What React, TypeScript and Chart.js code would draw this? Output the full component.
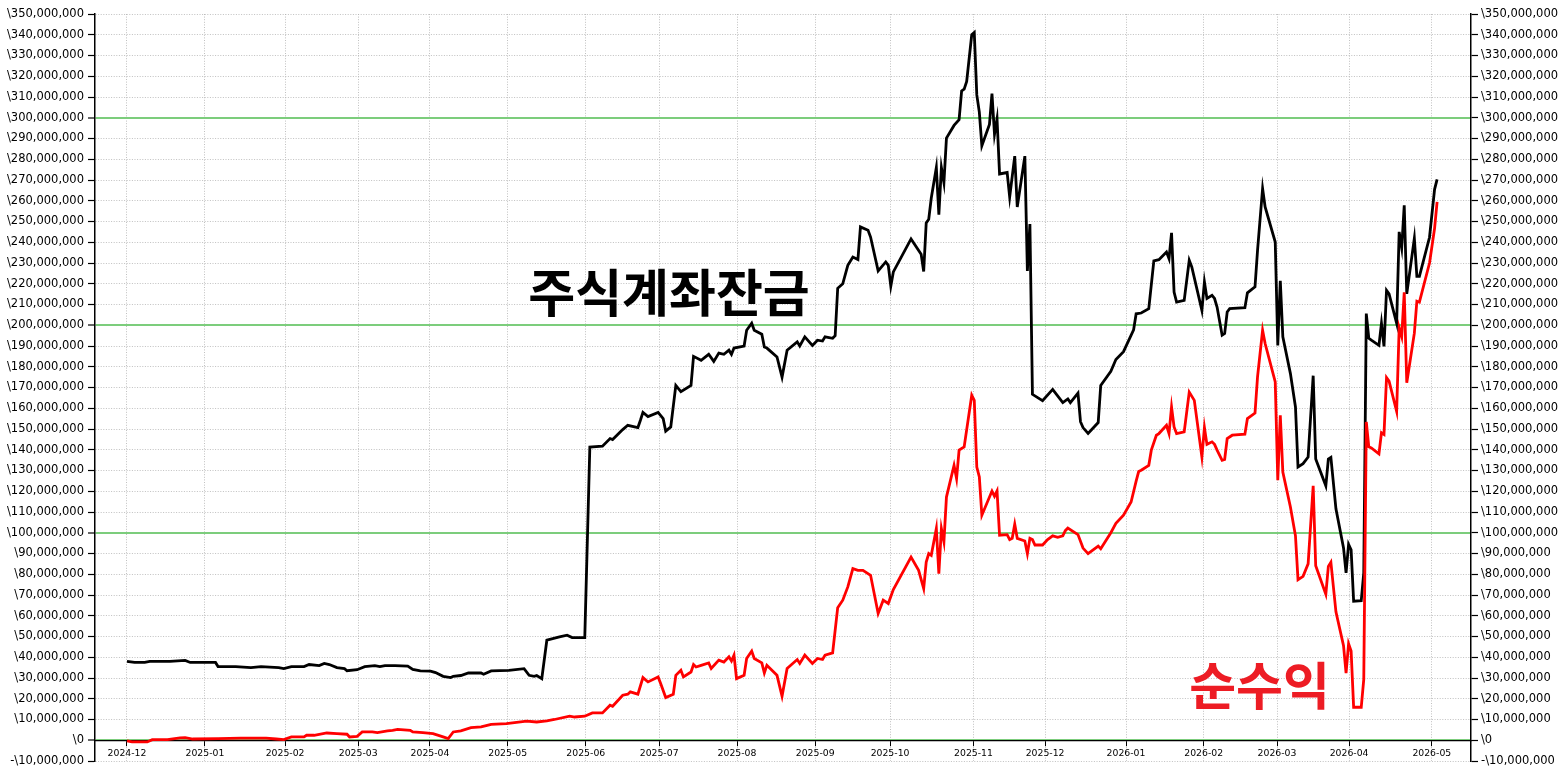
import { useEffect, useRef } from 'react';
import { Chart, registerables } from 'chart.js';
import type { ChartConfiguration, Plugin } from 'chart.js';

Chart.register(...registerables);

// x = record index (the first record is 2024-12-01), y = million won

// 주식계좌잔금 (account balance)
const balanceIdx = [
  0, 3, 7, 9, 17, 23, 25, 35, 36, 43, 49, 53, 60, 62, 65, 70, 72, 76, 78, 80, 83, 86, 87, 91, 94, 98, 100, 102, 106,
  111, 113, 116, 120, 122, 125, 128, 129, 132, 135, 140, 141, 144, 151, 157, 159, 161, 162, 164, 166, 171, 174, 176,
  181, 183, 188, 191, 192, 196, 198, 202, 203, 204, 206, 210, 212, 213, 215, 217, 219, 223, 224, 227, 230, 232, 234,
  236, 238, 239, 240, 244, 245, 247, 248, 251, 252, 253, 257, 259, 261, 265, 266, 268, 271, 273, 275, 276, 279, 280,
  281, 283, 285, 287, 289, 290, 293, 294, 297, 300, 301, 302, 303, 310, 314, 315, 316, 317, 318, 320, 321, 322, 323,
  324, 327, 329, 330, 331, 332, 334, 335, 336, 337, 338, 341, 342, 343, 344, 345, 348, 349, 351, 352, 355, 356, 357,
  358, 362, 366, 370, 372, 373, 376, 377, 378, 380, 384, 385, 389, 391, 394, 398, 399, 401, 404, 406, 408, 411, 412,
  413, 414, 415, 418, 420, 421, 425, 426, 427, 429, 430, 431, 433, 434, 435, 436, 442, 443, 446, 447, 449, 450, 454,
  455, 456, 457, 460, 462, 463, 465, 467, 469, 470, 474, 475, 476, 478, 481, 482, 483, 484, 485, 488, 489, 490, 491,
  492, 495, 496, 497, 498, 499, 502, 503, 504, 505, 506, 509, 510, 511, 515, 517, 518,
];
const balanceM = [
  38.0, 37.5, 37.5, 38.0, 38.0, 38.5, 37.5, 37.5, 35.5, 35.5, 35.0, 35.5, 35.0, 34.5, 35.5, 35.5, 36.5, 36.0, 37.0,
  36.5, 35.0, 34.5, 33.5, 34.0, 35.5, 36.0, 35.5, 36.0, 36.0, 35.7, 34.1, 33.4, 33.3, 32.6, 30.8, 30.2, 30.8, 31.2,
  32.4, 32.4, 31.8, 33.4, 33.7, 34.5, 31.3, 30.8, 31.2, 29.7, 48.2, 49.8, 50.6, 49.5, 49.5, 141.3, 141.7, 145.4,
  144.9, 149.7, 151.8, 150.7, 154.2, 158.0, 156.0, 158.0, 155.0, 149.0, 151.0, 171.0, 168.0, 171.0, 185.0, 183.1,
  186.0, 182.6, 186.6, 186.0, 188.0, 186.0, 189.0, 190.0, 197.6, 201.0, 197.6, 195.7, 189.5, 189.0, 184.7, 175.0,
  188.0, 192.0, 190.0, 194.4, 190.3, 192.8, 192.4, 194.4, 193.7, 195.0, 217.8, 220.0, 228.9, 232.9, 231.7, 247.4,
  245.8, 242.5, 226.2, 230.5, 228.9, 218.8, 225.7, 241.6, 234.2, 225.9, 249.3, 251.1, 261.3, 276.0, 253.3, 276.0,
  268.7, 290.2, 296.3, 299.1, 312.9, 313.8, 317.5, 340.0, 341.1, 311.0, 302.7, 286.5, 296.8, 311.6, 292.0, 299.4,
  272.9, 273.6, 261.8, 281.5, 257.0, 281.5, 226.2, 248.8, 166.7, 163.6, 169.1, 162.7, 164.5, 162.7, 167.3, 153.5,
  150.7, 147.9, 153.1, 171.0, 177.8, 183.5, 187.3, 197.8, 205.5, 205.9, 208.0, 231.0, 231.6, 235.3, 232.1, 244.5,
  216.0, 211.2, 212.0, 231.3, 228.1, 207.2, 220.9, 212.9, 214.4, 212.9, 208.8, 195.2, 196.0, 206.4, 208.0, 208.5,
  215.6, 218.5, 236.1, 265.9, 257.0, 240.1, 190.3, 221.4, 194.4, 176.7, 160.6, 131.7, 133.3, 136.5, 175.7, 135.5,
  122.6, 135.5, 136.3, 111.5, 92.7, 80.7, 94.4, 91.8, 67.0, 67.3, 80.7, 205.6, 193.7, 192.8, 190.3, 200.9, 189.8,
  216.8, 215.1, 200.9, 245.0, 237.3, 257.8, 215.1, 241.9, 223.6, 223.6, 242.4, 265.5, 270.3,
];

// 순수익 (net profit)
const profitIdx = [
  0, 2, 8, 10, 16, 21, 23, 26, 36, 45, 55, 59, 62, 65, 70, 71, 74, 79, 83, 87, 88, 91, 93, 97, 99, 103, 105, 107, 112,
  113, 117, 121, 125, 127, 129, 132, 136, 140, 144, 150, 158, 162, 166, 169, 175, 177, 181, 184, 188, 191, 192, 196,
  198, 199, 202, 204, 206, 210, 211, 213, 216, 217, 219, 220, 223, 224, 225, 227, 230, 231, 234, 236, 238, 239, 240,
  241, 244, 245, 247, 248, 251, 252, 253, 257, 259, 261, 265, 266, 268, 271, 273, 275, 276, 279, 281, 283, 285, 287,
  289, 291, 294, 297, 299, 301, 303, 310, 313, 315, 316, 317, 318, 320, 321, 322, 323, 324, 327, 328, 329, 331, 334,
  335, 336, 337, 338, 342, 343, 344, 345, 348, 349, 350, 351, 352, 355, 356, 357, 358, 359, 362, 364, 366, 368, 370,
  371, 372, 376, 378, 380, 384, 385, 389, 391, 394, 397, 399, 400, 401, 404, 405, 407, 408, 411, 412, 413, 414, 415,
  418, 420, 422, 425, 426, 427, 429, 430, 431, 433, 434, 435, 437, 442, 443, 446, 447, 449, 450, 454, 455, 456, 457,
  460, 462, 463, 465, 467, 469, 470, 474, 475, 476, 478, 481, 482, 483, 484, 485, 488, 489, 490, 491, 492, 495, 496,
  497, 498, 499, 502, 503, 504, 505, 506, 509, 510, 511, 515, 517, 518,
];
const profitM = [
  -0.3, -0.8, -0.8, 0.3, 0.3, 1.1, 1.3, 0.6, 0.8, 1.0, 1.0, 0.6, 0.3, 1.6, 1.6, 2.4, 2.4, 3.5, 3.2, 2.9, 1.6, 1.9,
  4.0, 4.0, 3.7, 4.5, 4.8, 5.2, 4.8, 4.0, 3.7, 3.2, 1.6, 0.8, 4.0, 4.5, 6.1, 6.4, 7.7, 8.0, 9.2, 8.8, 9.3, 10.0,
  11.6, 11.2, 11.6, 13.2, 13.2, 16.9, 16.4, 21.7, 22.2, 23.3, 22.2, 30.2, 28.1, 30.5, 27.3, 20.6, 22.2, 31.3, 33.7,
  30.5, 32.9, 36.5, 35.3, 36.1, 37.3, 34.6, 38.6, 37.7, 40.2, 38.2, 41.0, 29.7, 31.3, 39.4, 43.0, 39.4, 37.3, 32.4,
  36.1, 31.3, 21.2, 34.6, 38.9, 37.0, 41.0, 37.0, 39.4, 38.9, 41.0, 42.1, 63.9, 67.5, 73.9, 82.7, 81.9, 81.9, 79.5,
  61.1, 67.5, 65.9, 72.6, 88.3, 81.9, 73.1, 85.9, 90.0, 89.1, 102.0, 80.3, 102.0, 95.6, 117.2, 132.5, 126.1, 139.8,
  141.4, 166.3, 163.8, 131.7, 126.9, 108.4, 120.1, 117.6, 120.1, 98.8, 99.1, 96.7, 97.3, 104.1, 97.3, 96.0, 89.9,
  97.3, 96.7, 94.1, 94.1, 96.7, 98.5, 97.8, 98.5, 101.0, 102.3, 99.1, 92.6, 89.9, 93.6, 92.3, 100.0, 104.5, 108.5,
  114.8, 124.9, 129.5, 130.1, 132.5, 139.8, 147.0, 147.8, 151.8, 147.8, 160.6, 151.0, 147.8, 148.6, 167.8, 163.8,
  136.5, 150.7, 142.6, 143.8, 142.6, 139.8, 134.9, 135.3, 145.4, 147.0, 147.5, 155.0, 157.7, 175.1, 197.6, 191.2,
  172.7, 125.3, 156.6, 129.3, 112.4, 98.5, 77.4, 79.0, 85.0, 122.6, 84.1, 70.4, 83.8, 85.8, 61.9, 45.6, 32.4, 46.5,
  43.0, 15.9, 15.9, 29.3, 153.4, 141.4, 140.9, 138.0, 148.2, 147.4, 174.8, 173.1, 158.5, 198.8, 194.5, 215.9, 172.3,
  196.2, 211.6, 211.1, 230.0, 246.7, 259.5,
];

// first record of each month
const monthTickIdx = [0, 30.8, 62.5, 91.4, 119.8, 150.5, 181.4, 210.4, 241.2, 272.1, 301.7, 334.7, 363, 395, 425.7, 454.7, 483.2, 515.9];
const monthLabels = [
  '2024-12', '2025-01', '2025-02', '2025-03', '2025-04', '2025-05', '2025-06', '2025-07', '2025-08',
  '2025-09', '2025-10', '2025-11', '2025-12', '2026-01', '2026-02', '2026-03', '2026-04', '2026-05',
];

// solid guide lines (won)
const guideLevels = [0, 100000000, 200000000, 300000000];

const Y_MIN = -10000000;
const Y_MAX = 350000000;
const X_MIN = -12.65;
const X_MAX = 531.4;

const won = (v: number) => (v < 0 ? '-\\' : '\\') + Math.abs(v).toLocaleString('en-US');

const toPoints = (xs: number[], ys: number[]) => xs.map((x, i) => ({ x, y: ys[i] * 1000000 }));

const labelPlugin: Plugin<'line'> = {
  id: 'seriesLabels',
  afterDraw(chart) {
    const { ctx, scales } = chart;
    ctx.save();
    ctx.textAlign = 'center';
    ctx.textBaseline = 'middle';
    ctx.font = 'bold 51px "Noto Sans CJK KR"';
    ctx.fillStyle = '#000000';
    ctx.fillText('주식계좌잔금', scales.x.getPixelForValue(214.3), scales.y.getPixelForValue(215900000));
    ctx.font = 'bold 51px "Noto Sans CJK KR"';
    ctx.fillStyle = '#ed1c24';
    ctx.fillText('순수익', scales.x.getPixelForValue(447.8), scales.y.getPixelForValue(26300000));
    ctx.restore();
  },
};

const tickFont = { family: '"DejaVu Sans"', size: 11.5 };

export default function App() {
  const canvasRef = useRef<HTMLCanvasElement>(null);
  const chartRef = useRef<Chart | null>(null);

  useEffect(() => {
    document.body.style.margin = '0';
    if (!canvasRef.current) return;
    if (chartRef.current) chartRef.current.destroy();

    const isGuide = (v: number) => guideLevels.includes(v);

    const config: ChartConfiguration<'line'> = {
      type: 'line',
      data: {
        datasets: [
          {
            label: '순수익',
            data: toPoints(profitIdx, profitM),
            borderColor: '#ff0000',
            borderWidth: 2.8,
            pointRadius: 0,
            tension: 0,
          },
          {
            label: '주식계좌잔금',
            data: toPoints(balanceIdx, balanceM),
            borderColor: '#000000',
            borderWidth: 2.8,
            pointRadius: 0,
            tension: 0,
          },
        ],
      },
      options: {
        animation: false,
        responsive: true,
        maintainAspectRatio: false,
        parsing: false,
        layout: { padding: { top: 14, bottom: 16, left: 0, right: 0 } },
        plugins: {
          legend: { display: false },
          tooltip: { enabled: false },
        },
        scales: {
          x: {
            type: 'linear',
            min: X_MIN,
            max: X_MAX,
            position: { y: 0 },
            afterBuildTicks: (scale) => {
              scale.ticks = monthTickIdx.map((value) => ({ value }));
            },
            ticks: {
              autoSkip: false,
              maxRotation: 0,
              color: '#000000',
              padding: 3,
              font: { family: '"DejaVu Sans"', size: 9.3 },
              callback: (_v, i) => monthLabels[i],
            },
            grid: {
              color: '#b0b0b0',
              lineWidth: 0.8,
              tickColor: '#000000',
              tickLength: 5,
              tickWidth: 1,
            },
            border: { display: true, color: '#000000', width: 1.2, dash: [1, 1.6] },
          },
          y: {
            type: 'linear',
            position: 'left',
            min: Y_MIN,
            max: Y_MAX,
            afterFit: (scale) => {
              scale.width = 95;
            },
            ticks: {
              stepSize: 10000000,
              autoSkip: false,
              color: '#000000',
              padding: 4,
              font: tickFont,
              callback: (v) => won(Number(v)),
            },
            grid: {
              color: (c) => (isGuide(c.tick.value) ? '#7ccd7c' : '#b0b0b0'),
              lineWidth: (c) => (isGuide(c.tick.value) ? 2 : 0.8),
              tickColor: '#000000',
              tickLength: 7,
              tickWidth: 1.2,
            },
            border: {
              display: true,
              color: '#000000',
              width: 1.5,
              dash: (c) => (isGuide(c.tick.value) ? [] : [1, 1.6]),
            },
          },
          y2: {
            type: 'linear',
            position: 'right',
            min: Y_MIN,
            max: Y_MAX,
            afterFit: (scale) => {
              scale.width = 93;
            },
            ticks: {
              stepSize: 10000000,
              autoSkip: false,
              color: '#000000',
              padding: 3,
              font: tickFont,
              callback: (v) => won(Number(v)),
            },
            grid: {
              drawOnChartArea: false,
              tickColor: '#000000',
              tickLength: 7,
              tickWidth: 1.2,
            },
            border: { display: true, color: '#000000', width: 1.5 },
          },
        },
      },
      plugins: [labelPlugin],
    };

    chartRef.current = new Chart(canvasRef.current, config);

    return () => {
      if (chartRef.current) {
        chartRef.current.destroy();
        chartRef.current = null;
      }
    };
  }, []);

  return (
    <div style={{ position: 'fixed', left: 0, top: 0, width: '1564px', height: '777px', background: '#ffffff' }}>
      <canvas ref={canvasRef}></canvas>
    </div>
  );
}
